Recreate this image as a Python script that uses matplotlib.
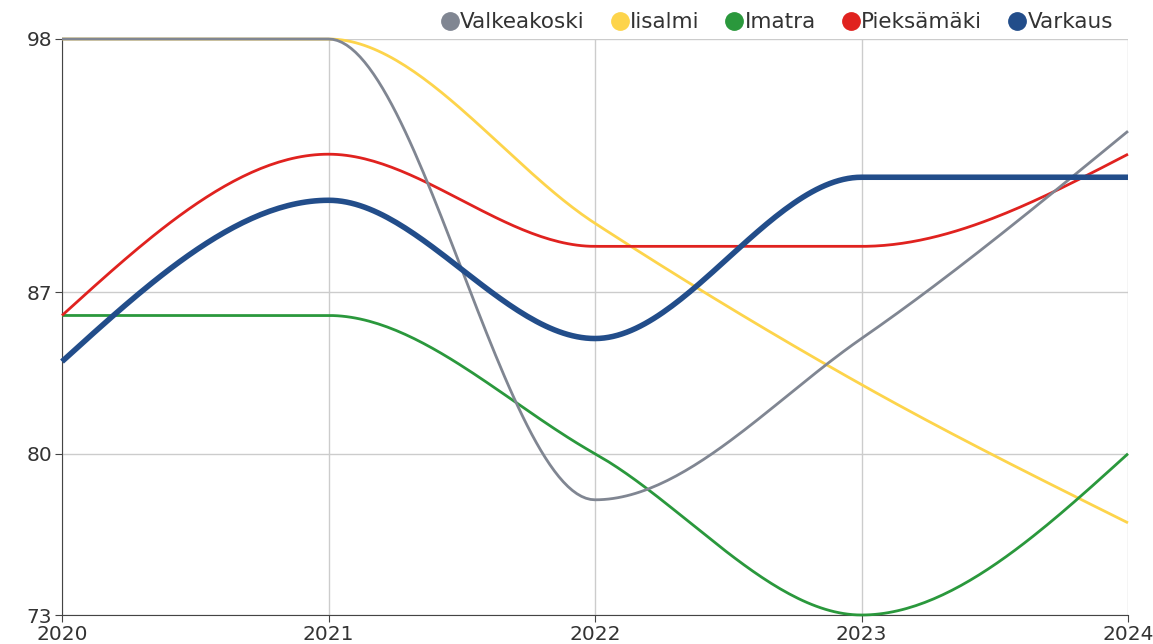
import numpy as np
import matplotlib.pyplot as plt

plt.rcParams['font.family'] = ['DejaVu Sans']

years = [2020, 2021, 2022, 2023, 2024]
valkeakoski = [98, 98, 78, 85, 94]
iisalmi = [98, 98, 90, 83, 77]
imatra = [86, 86, 80, 73, 80]
pieksamaki = [86, 93, 89, 89, 93]
varkaus = [84, 91, 85, 92, 92]
y_ticks = [73, 80, 87, 98]


def monotone(x, y, n=60):
    # monotone cubic curve through the points (like d3 curveMonotoneX)
    x = np.asarray(x, float)
    y = np.asarray(y, float)
    h = np.diff(x)
    s = np.diff(y) / h
    t = np.zeros(len(x))
    for i in range(1, len(x) - 1):
        p = (s[i - 1] * h[i] + s[i] * h[i - 1]) / (h[i - 1] + h[i])
        t[i] = (np.sign(s[i - 1]) + np.sign(s[i])) * min(abs(s[i - 1]), abs(s[i]), 0.5 * abs(p))
    t[0] = (3 * s[0] - t[1]) / 2
    t[-1] = (3 * s[-1] - t[-2]) / 2
    xs, ys = [], []
    for i in range(len(x) - 1):
        u = np.linspace(0, 1, n)
        h00 = 2 * u**3 - 3 * u**2 + 1
        h10 = u**3 - 2 * u**2 + u
        h01 = -2 * u**3 + 3 * u**2
        h11 = u**3 - u**2
        xs.append(x[i] + u * h[i])
        ys.append(h00 * y[i] + h10 * h[i] * t[i] + h01 * y[i + 1] + h11 * h[i] * t[i + 1])
    return np.concatenate(xs), np.concatenate(ys)


fig = plt.figure(figsize=(11.53, 6.44), dpi=100)
ax = fig.add_axes([62 / 1153, 1 - 615 / 644, (1128 - 62) / 1153, (615 - 39) / 644])

series = [
    ("Valkeakoski", valkeakoski, "#808692", 2, 5),
    ("Iisalmi", iisalmi, "#fdd44b", 2, 3),
    ("Imatra", imatra, "#2a983c", 2, 3),
    ("Pieksämäki", pieksamaki, "#e0221f", 2, 3),
    ("Varkaus", varkaus, "#224d8a", 4, 6),
]

for name, vals, col, lw, z in series:
    xs, ys = monotone(years, vals)
    ax.plot(xs, ys, color=col, lw=lw, clip_on=False, solid_capstyle="butt", zorder=z)
    ax.plot([], [], "o", color=col, markersize=12.5, label=name)

ax.set_xlim(2020, 2024)
ax.set_ylim(73, 98)
ax.set_xticks(years)
ax.set_yticks(y_ticks)
ax.grid(True, color="#cccccc", lw=1)
ax.set_axisbelow(True)
for side in ["top", "right"]:
    ax.spines[side].set_visible(False)
for side in ["left", "bottom"]:
    ax.spines[side].set_color("#444444")
ax.tick_params(axis="y", length=5, color="#444444", labelsize=14.5, labelcolor="#333333", pad=2)
ax.tick_params(axis="x", length=5, color="#444444", labelsize=14.5, labelcolor="#333333", pad=2)

fig.legend(loc="upper right", bbox_to_anchor=(0.982, 1.011), ncol=5, frameon=False,
           fontsize=15.5, handletextpad=0.05, columnspacing=1.2, handlelength=0.85,
           labelcolor="#333333")

fig.savefig("out.png", dpi=100)
